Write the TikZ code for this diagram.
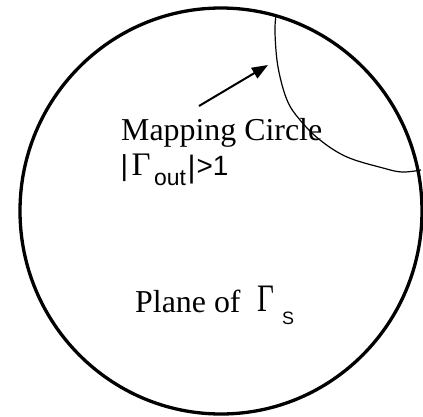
\documentclass[tikz,border=0pt]{standalone}
\usepackage{fontspec}
\setmainfont{Liberation Serif}
\setsansfont{Liberation Sans}
\usetikzlibrary{arrows.meta}
\newcommand{\fs}[1]{\fontsize{#1}{#1}\selectfont}
\begin{document}
\begin{tikzpicture}[x=1bp,y=-1bp,
  bigcircle/.style={line width=3.3bp},
  lens/.style={line width=1.2bp},
  pointer/.style={line width=2bp,-{Triangle[length=16bp,width=12bp]}},
  label/.style={inner sep=0pt,anchor=base west}]
\useasboundingbox (0,0) rectangle (423,417);
\draw[bigcircle] (221,211) ellipse [x radius=201, y radius=203];
\draw[lens] plot[smooth,tension=0.6] coordinates {(276,15) (275,33) (278,67) (287,100) (300,120) (320,140) (347,157) (383,168) (402,172) (421,170)};
\coordinate (tail) at (199,106);
\coordinate (tip) at (268,65);
\draw[pointer] (tail) -- (tip);
\node[label] (l1) at (121,140) {\fs{32}Mapping Circle};
\node[label] (bar1) at (120.5,175) {\sffamily\fs{29}|};
\node[label] (g1) at (131.5,175) {\fs{33}Γ};
\node[label] (out) at (154,185) {\sffamily\fs{23}out};
\node[label] (bar2) at (187.5,177) {\sffamily\fs{31}|};
\node[label] (gt) at (196.5,175) {\sffamily\fs{28}>1};
\node[label] (l3) at (135,312) {\fs{32}Plane of};
\node[label] (g2) at (257,311) {\scalebox{0.75}[1]{\fs{39}Γ}};
\node[label] (s) at (282,324) {\sffamily\fs{18}S};
\end{tikzpicture}
\end{document}
